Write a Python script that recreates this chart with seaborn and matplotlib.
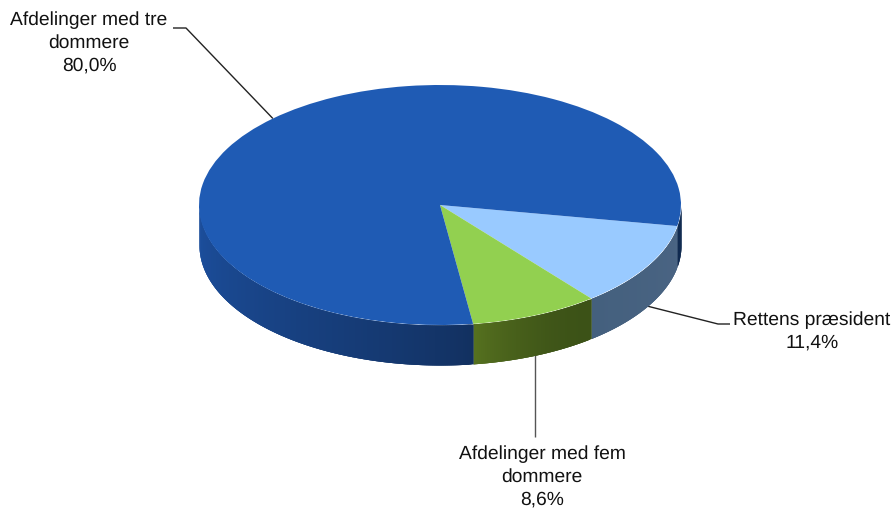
import numpy as np
import matplotlib
matplotlib.use("Agg")
import matplotlib.pyplot as plt
from matplotlib.colors import to_rgb
import seaborn as sns

# Fordeling af sager
categories = ["Rettens præsident", "Afdelinger med fem\ndommere", "Afdelinger med tre\ndommere"]
shares = [11.4, 8.6, 80.0]

sns.set_theme(style="white")
plt.rcParams["font.family"] = ["Liberation Sans", "DejaVu Sans"]
plt.rcParams["text.hinting"] = "no_hinting"
palette = sns.color_palette(["#99CAFF", "#92D050", "#1F5BB4"])

# Rim colour at the start and end of each slice, and how it ramps between them
rim_colors = [("#4A6483", "#44607E"), ("#3C5217", "#56711F"), ("#12305F", "#1C4F9E")]
rim_ramp = [1.0, 2.0, 0.8]
RIGHT_SLIVER = "#102A50"

W, H = 895, 509
CX, CY, RX, RY, DEPTH = 440, 205, 241, 120, 40
START = -10.1


def to_data(x, y):
    return (x - CX) / RX, (CY - y) / RY


fig = plt.figure(figsize=(W / 100, H / 100), dpi=100)
ax = fig.add_axes([0, 0, 1, 1])

# Top face of the disc
ax.pie(shares, colors=palette, startangle=START, counterclock=False, radius=1,
       center=(0, 0), wedgeprops=dict(linewidth=0, zorder=5))
ax.set_aspect("auto")
ax.set_xlim(-CX / RX, (W - CX) / RX)
ax.set_ylim((CY - H) / RY, CY / RY)
ax.set_axis_off()

# Rim of the disc, painted strip by strip; each strip overlaps the next one
fractions = np.array(shares) / sum(shares)
edges = START - 360 * np.concatenate([[0], np.cumsum(fractions)])
depth = DEPTH / RY
step = 0.5
for i in range(len(shares)):
    a0, a1 = edges[i], edges[i + 1]
    first, last = np.array(to_rgb(rim_colors[i][0])), np.array(to_rgb(rim_colors[i][1]))
    for t0 in np.arange(a0, a1, -step):
        t1 = max(t0 - step * 3, a1)
        mid = t0 - step / 2
        if np.sin(np.radians(mid)) > 0:
            continue
        if mid < -180:
            # the big slice wraps round: its right-hand sliver stays dark
            shade = to_rgb(RIGHT_SLIVER)
        else:
            u = (mid - a0) / (max(a1, -180) - a0)
            shade = tuple(first + (last - first) * u ** rim_ramp[i])
        th = np.radians(np.linspace(t0, t1, 5))
        x, y = np.cos(th), np.sin(th)
        ax.fill_between(x, y, y - depth, color=shade, linewidth=0, zorder=3)

# Labels with leader lines from the middle of each slice
mids = edges[:-1] - 180 * fractions
label_pos = [(812, 331), (542, 477), (89, 43)]
elbows = [[(718, 324), (730, 324)], [(535, 437)], [(186, 28), (173, 28)]]
line_colors = ["#222222", "#555555", "#222222"]
for i, name in enumerate(categories):
    th = np.radians(mids[i])
    ax_x, ax_y = np.cos(th), np.sin(th)
    if ax_y < 0:
        ax_y -= depth
    pts = [(ax_x, ax_y)] + [to_data(*p) for p in elbows[i]]
    if len(elbows[i]) == 1:
        pts[0] = (pts[1][0], ax_y)
    ax.plot(*zip(*pts), color=line_colors[i], lw=1.0, zorder=2, solid_capstyle="butt")
    text = f"{name}\n{shares[i]:.1f}%".replace(".", ",")
    tx, ty = to_data(*label_pos[i])
    ax.text(tx, ty, text, ha="center", va="center", fontsize=13.9,
            color="#111111", linespacing=1.36, zorder=6)

fig.savefig("out.png", dpi=100, facecolor="white")
